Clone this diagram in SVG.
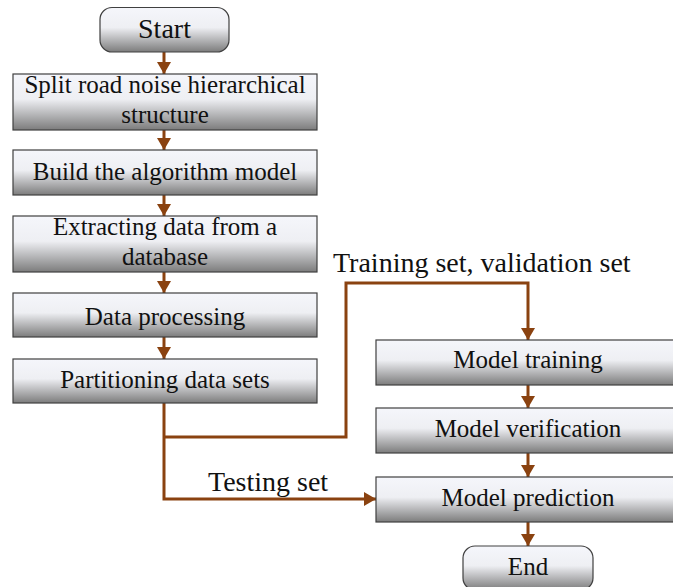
<svg xmlns="http://www.w3.org/2000/svg" width="673" height="587" viewBox="0 0 673 587">
<defs>
<linearGradient id="g" x1="0" y1="0" x2="0" y2="1">
<stop offset="0" stop-color="#f5f6fb"/>
<stop offset="0.45" stop-color="#eeeff3"/>
<stop offset="1" stop-color="#7c7c7c"/>
</linearGradient>
<marker id="ah" viewBox="0 0 12 14" refX="12" refY="7" markerWidth="12" markerHeight="14" markerUnits="userSpaceOnUse" orient="auto">
<path d="M0,0 L12,7 L0,14 Z" fill="#8a4210"/>
</marker>
<style>
.box{fill:url(#g);stroke:#404040;stroke-width:1.2}
.c{fill:none;stroke:#8a4210;stroke-width:3;marker-end:url(#ah)}
</style>
</defs>
<g id="connectors">
<path class="c" d="M164,52 V74"/>
<path class="c" d="M164,130 V150"/>
<path class="c" d="M164,195 V216"/>
<path class="c" d="M164,272 V293"/>
<path class="c" d="M164,337 V359"/>
<path class="c" d="M164,403 V499 H376"/>
<path class="c" d="M164,437 H346 V283 H528 V340"/>
<path class="c" d="M528,385 V408"/>
<path class="c" d="M528,453 V477"/>
<path class="c" d="M528,522 V546"/>
</g>
<g font-family="'Liberation Serif', 'Times New Roman', 'DejaVu Serif', serif" font-size="25" fill="#111" text-anchor="middle">
<g id="start"><rect class="box" x="100" y="7.5" width="129" height="44.5" rx="12"/><text x="164.5" y="38" font-size="28">Start</text></g>
<g id="split"><rect class="box" x="13" y="74" width="304" height="56"/><text x="165" y="93">Split road noise hierarchical</text><text x="165" y="123">structure</text></g>
<g id="build"><rect class="box" x="13" y="150" width="304" height="45"/><text x="165" y="180">Build the algorithm model</text></g>
<g id="extract"><rect class="box" x="13" y="216" width="304" height="56"/><text x="165" y="235">Extracting data from a</text><text x="165" y="265">database</text></g>
<g id="process"><rect class="box" x="13" y="293" width="304" height="44"/><text x="165" y="325">Data processing</text></g>
<g id="partition"><rect class="box" x="13" y="359" width="304" height="44"/><text x="165" y="388">Partitioning data sets</text></g>
<g id="training"><rect class="box" x="376" y="340" width="304" height="45"/><text x="528" y="368">Model training</text></g>
<g id="verification"><rect class="box" x="376" y="408" width="304" height="45"/><text x="528" y="437">Model verification</text></g>
<g id="prediction"><rect class="box" x="376" y="477" width="304" height="45"/><text x="528" y="506">Model prediction</text></g>
<g id="end"><rect class="box" x="463" y="546" width="130" height="44" rx="12"/><text x="528" y="575">End</text></g>
<g font-size="28" text-anchor="start">
<text x="333" y="272">Training set, validation set</text>
<text x="208" y="491">Testing set</text>
</g>
</g>
</svg>
